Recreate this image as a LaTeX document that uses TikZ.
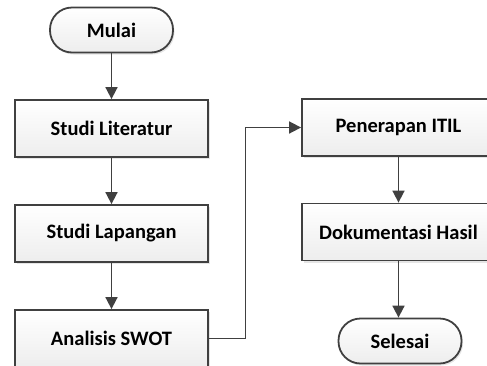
\documentclass[tikz,border=0pt]{standalone}
\usepackage{fontspec}
\setmainfont{Carlito}
\usetikzlibrary{arrows.meta,shadows}
\definecolor{edge}{HTML}{404040}
\begin{document}
\begin{tikzpicture}[x=1pt,y=-1pt,
  base/.style={draw=edge, line width=1.8pt, top color=white, bottom color=gray!14,
    inner sep=0pt, font=\fontsize{20.5}{24}\selectfont\bfseries,
    drop shadow={shadow xshift=1.5pt, shadow yshift=-2pt, fill=gray!40, opacity=0.5}},
  stepbox/.style={base, rectangle, minimum width=193pt, minimum height=57pt},
  terminal/.style={base, rectangle, rounded corners=22pt, minimum width=123pt, minimum height=45pt},
  flow/.style={draw=edge, line width=1.7pt, -{Triangle[length=12pt,width=12pt]}}]
\useasboundingbox (0,0) rectangle (487,365);
\begin{scope}
\clip (0,0) rectangle (487,365);
% left column
\node[terminal] (mulai) at (111.5,30) {Mulai};
\node[stepbox] (lit) at (111.5,128.5) {Studi Literatur};
\node[stepbox] (lap) at (111.5,233.5) {Studi Lapangan};
\node[stepbox] (swot) at (111.5,338.5) {Analisis SWOT};
% right column
\node[stepbox] (itil) at (398.5,127.5) {Penerapan ITIL};
\node[stepbox] (dok) at (398.5,232) {Dokumentasi Hasil};
\node[terminal] (selesai) at (400,341) {Selesai};
% connectors
\draw[flow] (mulai) -- (lit);
\draw[flow] (lit) -- (lap);
\draw[flow] (lap) -- (swot);
\coordinate (turn) at (245.5,0);
\draw[flow] (swot.east) -- (swot.east -| turn) -- (itil.west -| turn) -- (itil.west);
\draw[flow] (itil) -- (dok);
\draw[flow] (dok) -- (dok.south |- selesai.north);
\end{scope}
\end{tikzpicture}
\end{document}
